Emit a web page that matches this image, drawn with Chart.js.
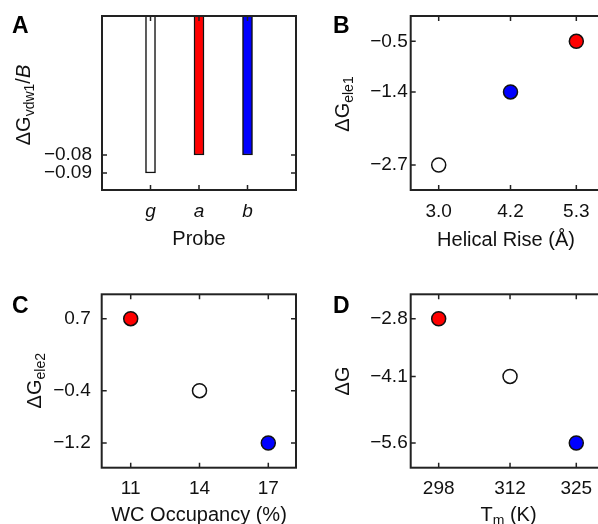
<!DOCTYPE html>
<html>
<head>
<meta charset="utf-8">
<script src="https://cdn.jsdelivr.net/npm/chart.js@4.4.0/dist/chart.umd.min.js"></script>
<style>
html, body { margin: 0; padding: 0; background: #fff; overflow: hidden; width: 598px; height: 524px; }
canvas { position: absolute; }
</style>
</head>
<body>
<canvas id="panelA" width="299" height="262" style="left:0;top:0"></canvas>
<canvas id="panelB" width="311" height="262" style="left:299px;top:0"></canvas>
<canvas id="panelC" width="299" height="262" style="left:0;top:262px"></canvas>
<canvas id="panelD" width="311" height="262" style="left:299px;top:262px"></canvas>
<script>
// probes and their colours (g = white, a = red, b = blue)
const probes = ['g', 'a', 'b'];
const probeColors = ['#ffffff', '#ff0000', '#0000ff'];

// A : vdW term per probe
const vdwValues = [-0.09, -0.08, -0.08];
const vdwTicks = [-0.08, -0.09];

// B : helical rise vs ele1 (order g, a, b)
const riseValues = [3.0, 5.3, 4.2];
const ele1Values = [-2.7, -0.5, -1.4];
const riseTicks = [3.0, 4.2, 5.3];
const ele1Ticks = [-0.5, -1.4, -2.7];

// C : WC occupancy vs ele2
const occupancyValues = [14, 11, 17];
const ele2Values = [-0.4, 0.7, -1.2];
const occupancyTicks = [11, 14, 17];
const ele2Ticks = [0.7, -0.4, -1.2];

// D : Tm vs dG
const tmValues = [312, 298, 325];
const dgValues = [-4.1, -2.8, -5.6];
const tmTicks = [298, 312, 325];
const dgTicks = [-2.8, -4.1, -5.6];

const fontFamily = '"Liberation Sans", Arial, Helvetica, sans-serif';

function fmt(v, digits) {
    return Number(v).toFixed(digits).replace('-', '\u2212');
}

// draw a title made of pieces (normal / subscript / italic), centred on x,y
function drawRich(ctx, parts, x, y, rotated) {
    const big = 20, small = 14;
    const fontOf = p => (p.it ? 'italic ' : '') + (p.sub ? small : big) + 'px ' + fontFamily;
    let total = 0;
    parts.forEach(p => { ctx.font = fontOf(p); p.w = ctx.measureText(p.t).width; total += p.w; });
    ctx.save();
    ctx.translate(x, y);
    if (rotated) ctx.rotate(-Math.PI / 2);
    ctx.fillStyle = '#111';
    ctx.textAlign = 'left';
    ctx.textBaseline = 'alphabetic';
    let cx = -total / 2;
    parts.forEach(p => {
        ctx.font = fontOf(p);
        ctx.fillText(p.t, cx, p.sub ? 4 : 0);
        cx += p.w;
    });
    ctx.restore();
}

const framePlugin = {
    id: 'frame',
    afterDraw(chart, args, opts) {
        const ctx = chart.ctx;
        const a = chart.chartArea;
        const xs = chart.scales.x;
        const ys = chart.scales.y;
        ctx.save();
        ctx.strokeStyle = '#222';
        ctx.lineWidth = 1.5;
        ctx.beginPath();
        xs.ticks.forEach(t => {
            const px = xs.getPixelForValue(t.value);
            ctx.moveTo(px, a.top); ctx.lineTo(px, a.top + 5);
            ctx.moveTo(px, a.bottom); ctx.lineTo(px, a.bottom - 5);
        });
        ys.ticks.forEach(t => {
            const py = ys.getPixelForValue(t.value);
            ctx.moveTo(a.left, py); ctx.lineTo(a.left + 5, py);
            ctx.moveTo(a.right, py); ctx.lineTo(a.right - 5, py);
        });
        ctx.stroke();
        ctx.lineWidth = 2;
        ctx.strokeRect(a.left, a.top, a.right - a.left, a.bottom - a.top);
        ctx.restore();

        drawRich(ctx, opts.xTitle, opts.xTitlePos[0], opts.xTitlePos[1], false);
        drawRich(ctx, opts.yTitle, opts.yTitlePos[0], opts.yTitlePos[1], true);

        ctx.save();
        ctx.font = 'bold 23px ' + fontFamily;
        ctx.fillStyle = '#000';
        ctx.textAlign = 'left';
        ctx.textBaseline = 'alphabetic';
        ctx.fillText(opts.letter, opts.letterPos[0], opts.letterPos[1]);
        ctx.restore();
    }
};

function axis(min, max, ticks, labelFn, fit, padding, italic) {
    return {
        type: 'linear',
        min: min,
        max: max,
        offset: false,
        grid: { display: false, drawTicks: false },
        border: { display: false },
        afterBuildTicks: s => { s.ticks = ticks.map(v => ({ value: v })); },
        afterFit: fit,
        ticks: {
            autoSkip: false,
            maxRotation: 0,
            padding: padding,
            color: '#111',
            font: { size: 19, family: fontFamily, style: italic ? 'italic' : 'normal' },
            callback: labelFn
        }
    };
}

function baseOptions(pad, xScale, yScale, frame) {
    return {
        responsive: false,
        animation: false,
        devicePixelRatio: 1,
        layout: { padding: pad, autoPadding: false },
        plugins: { legend: { display: false }, tooltip: { enabled: false }, frame: frame },
        scales: { x: xScale, y: yScale }
    };
}

// fixed axis sizes so the plot boxes land where the reference has them
const fitY = s => { s.width = 60; s.paddingTop = 0; s.paddingBottom = 0; };
const fitX = s => { s.height = 40; s.paddingLeft = 0; s.paddingRight = 0; };

// Panel A
new Chart(document.getElementById('panelA'), {
    type: 'bar',
    data: {
        datasets: [{
            data: probes.map((p, i) => ({ x: i + 1, y: vdwValues[i] })),
            backgroundColor: probeColors,
            borderColor: '#111',
            borderWidth: 1.5,
            borderSkipped: false,
            barThickness: 10
        }]
    },
    options: baseOptions(
        { left: 42, top: 16, right: 3, bottom: 32 },
        axis(0, 4, [1, 2, 3], v => probes[v - 1], fitX, 10, true),
        axis(-0.09944, -0.00278, vdwTicks, v => fmt(v, 2), fitY, 10, false),
        {
            letter: 'A', letterPos: [12, 33],
            xTitle: [{ t: 'Probe' }], xTitlePos: [199, 245],
            yTitle: [{ t: '\u0394G' }, { t: 'vdw1', sub: true }, { t: '/' }, { t: 'B', it: true }], yTitlePos: [30, 105]
        }
    ),
    plugins: [framePlugin]
});

function scatterChart(id, xs, ys, pad, xScale, yScale, frame) {
    return new Chart(document.getElementById(id), {
        type: 'scatter',
        data: {
            datasets: [{
                data: xs.map((x, i) => ({ x: x, y: ys[i] })),
                pointBackgroundColor: probeColors,
                pointBorderColor: '#111',
                pointBorderWidth: 1.5,
                pointRadius: 7,
                showLine: false
            }]
        },
        options: baseOptions(pad, xScale, yScale, frame),
        plugins: [framePlugin]
    });
}

// Panel B
scatterChart('panelB', riseValues, ele1Values,
    { left: 51.7, top: 16, right: 4, bottom: 32 },
    axis(2.532, 5.796, riseTicks, v => fmt(v, 1), fitX, 10, false),
    axis(-3.145, -0.05, ele1Ticks, v => fmt(v, 1), fitY, 3, false),
    {
        letter: 'B', letterPos: [34, 33],
        xTitle: [{ t: 'Helical Rise (\u00c5)' }], xTitlePos: [207, 246],
        yTitle: [{ t: '\u0394G' }, { t: 'ele1', sub: true }], yTitlePos: [50, 104]
    }
);

// Panel C
scatterChart('panelC', occupancyValues, ele2Values,
    { left: 41.7, top: 32.3, right: 3, bottom: 16.3 },
    axis(9.735, 18.208, occupancyTicks, v => fmt(v, 0), fitX, 10, false),
    axis(-1.578, 1.073, ele2Ticks, v => fmt(v, 1), fitY, 11, false),
    {
        letter: 'C', letterPos: [12, 50.7],
        xTitle: [{ t: 'WC Occupancy (%)' }], xTitlePos: [199, 259],
        yTitle: [{ t: '\u0394G' }, { t: 'ele2', sub: true }], yTitlePos: [41, 118.7]
    }
);

// Panel D
scatterChart('panelD', tmValues, dgValues,
    { left: 51.7, top: 32.3, right: 4, bottom: 16.3 },
    axis(292.51, 330.83, tmTicks, v => fmt(v, 0), fitX, 10, false),
    axis(-6.156, -2.25, dgTicks, v => fmt(v, 1), fitY, 3, false),
    {
        letter: 'D', letterPos: [34, 50.7],
        xTitle: [{ t: 'T' }, { t: 'm', sub: true }, { t: ' (K)' }], xTitlePos: [209.5, 259],
        yTitle: [{ t: '\u0394G' }], yTitlePos: [50, 119]
    }
);
</script>
</body>
</html>
